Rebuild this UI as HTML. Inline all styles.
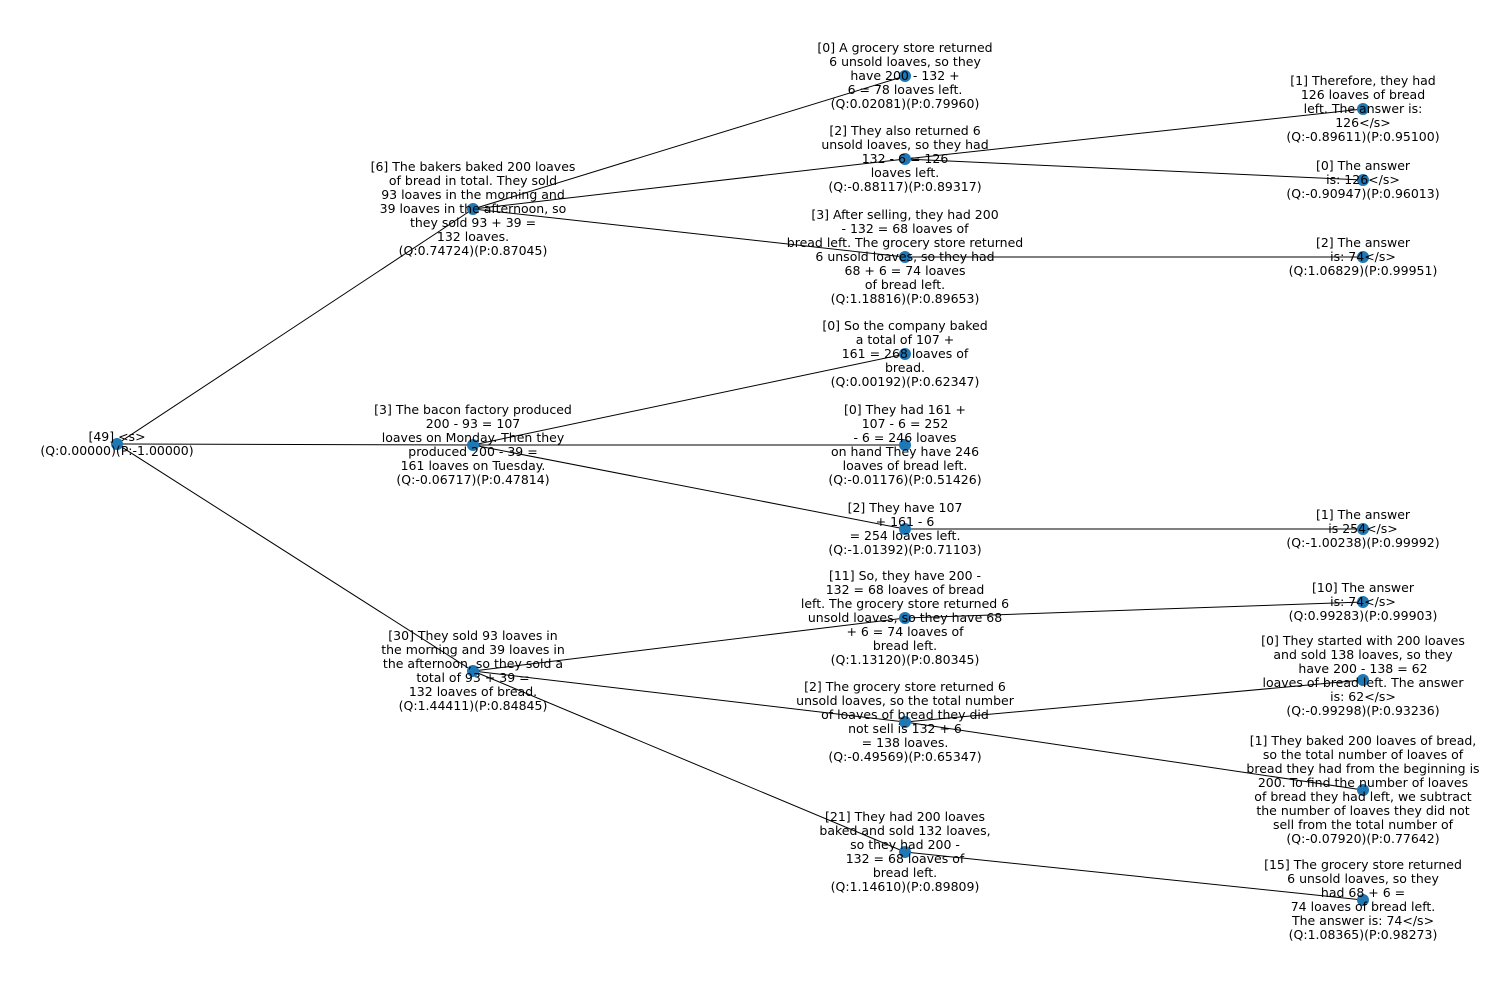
<!DOCTYPE html>
<html><head><meta charset="utf-8"><style>
body{margin:0;background:#fff}
svg text{font-family:"DejaVu Sans","Liberation Sans",sans-serif;font-size:12.5px;fill:#000;text-anchor:middle}
</style></head><body>
<svg width="1495" height="997" viewBox="0 0 1495 997" xmlns="http://www.w3.org/2000/svg">
<g stroke="#000" stroke-width="1">
<line x1="117" y1="444" x2="473" y2="209"/>
<line x1="117" y1="444" x2="473" y2="445"/>
<line x1="117" y1="444" x2="473" y2="671"/>
<line x1="473" y1="209" x2="905" y2="76"/>
<line x1="473" y1="209" x2="905" y2="159"/>
<line x1="473" y1="209" x2="905" y2="257"/>
<line x1="905" y1="159" x2="1363" y2="109"/>
<line x1="905" y1="159" x2="1363" y2="180"/>
<line x1="905" y1="257" x2="1363" y2="257"/>
<line x1="473" y1="445" x2="905" y2="354"/>
<line x1="473" y1="445" x2="905" y2="445"/>
<line x1="473" y1="445" x2="905" y2="529"/>
<line x1="905" y1="529" x2="1363" y2="529"/>
<line x1="473" y1="671" x2="905" y2="618"/>
<line x1="473" y1="671" x2="905" y2="722"/>
<line x1="473" y1="671" x2="905" y2="852"/>
<line x1="905" y1="618" x2="1363" y2="602"/>
<line x1="905" y1="722" x2="1363" y2="680"/>
<line x1="905" y1="722" x2="1363" y2="790"/>
<line x1="905" y1="852" x2="1363" y2="900"/>
</g>
<g fill="#1f77b4">
<circle cx="117" cy="444" r="6"/><circle cx="473" cy="209" r="6"/><circle cx="473" cy="445" r="6"/><circle cx="473" cy="671" r="6"/>
<circle cx="905" cy="76" r="6"/><circle cx="905" cy="159" r="6"/><circle cx="905" cy="257" r="6"/><circle cx="905" cy="354" r="6"/>
<circle cx="905" cy="445" r="6"/><circle cx="905" cy="529" r="6"/><circle cx="905" cy="618" r="6"/><circle cx="905" cy="722" r="6"/>
<circle cx="905" cy="852" r="6"/><circle cx="1363" cy="109" r="6"/><circle cx="1363" cy="180" r="6"/><circle cx="1363" cy="257" r="6"/>
<circle cx="1363" cy="529" r="6"/><circle cx="1363" cy="602" r="6"/><circle cx="1363" cy="680" r="6"/><circle cx="1363" cy="790" r="6"/>
<circle cx="1363" cy="900" r="6"/>
</g>
<text x="117" y="441"><tspan x="117">[49] &lt;s&gt;</tspan><tspan x="117" dy="14">(Q:0.00000)(P:-1.00000)</tspan></text>
<text x="473" y="171"><tspan x="473">[6] The bakers baked 200 loaves</tspan><tspan x="473" dy="14">of bread in total. They sold</tspan><tspan x="473" dy="14">93 loaves in the morning and</tspan><tspan x="473" dy="14">39 loaves in the afternoon, so</tspan><tspan x="473" dy="14">they sold 93 + 39 =</tspan><tspan x="473" dy="14">132 loaves.</tspan><tspan x="473" dy="14">(Q:0.74724)(P:0.87045)</tspan></text>
<text x="473" y="414"><tspan x="473">[3] The bacon factory produced</tspan><tspan x="473" dy="14">200 - 93 = 107</tspan><tspan x="473" dy="14">loaves on Monday. Then they</tspan><tspan x="473" dy="14">produced 200 - 39 =</tspan><tspan x="473" dy="14">161 loaves on Tuesday.</tspan><tspan x="473" dy="14">(Q:-0.06717)(P:0.47814)</tspan></text>
<text x="473" y="640"><tspan x="473">[30] They sold 93 loaves in</tspan><tspan x="473" dy="14">the morning and 39 loaves in</tspan><tspan x="473" dy="14">the afternoon, so they sold a</tspan><tspan x="473" dy="14">total of 93 + 39 =</tspan><tspan x="473" dy="14">132 loaves of bread.</tspan><tspan x="473" dy="14">(Q:1.44411)(P:0.84845)</tspan></text>
<text x="905" y="52"><tspan x="905">[0] A grocery store returned</tspan><tspan x="905" dy="14">6 unsold loaves, so they</tspan><tspan x="905" dy="14">have 200 - 132 +</tspan><tspan x="905" dy="14">6 = 78 loaves left.</tspan><tspan x="905" dy="14">(Q:0.02081)(P:0.79960)</tspan></text>
<text x="905" y="135"><tspan x="905">[2] They also returned 6</tspan><tspan x="905" dy="14">unsold loaves, so they had</tspan><tspan x="905" dy="14">132 - 6 = 126</tspan><tspan x="905" dy="14">loaves left.</tspan><tspan x="905" dy="14">(Q:-0.88117)(P:0.89317)</tspan></text>
<text x="905" y="219"><tspan x="905">[3] After selling, they had 200</tspan><tspan x="905" dy="14">- 132 = 68 loaves of</tspan><tspan x="905" dy="14">bread left. The grocery store returned</tspan><tspan x="905" dy="14">6 unsold loaves, so they had</tspan><tspan x="905" dy="14">68 + 6 = 74 loaves</tspan><tspan x="905" dy="14">of bread left.</tspan><tspan x="905" dy="14">(Q:1.18816)(P:0.89653)</tspan></text>
<text x="905" y="330"><tspan x="905">[0] So the company baked</tspan><tspan x="905" dy="14">a total of 107 +</tspan><tspan x="905" dy="14">161 = 268 loaves of</tspan><tspan x="905" dy="14">bread.</tspan><tspan x="905" dy="14">(Q:0.00192)(P:0.62347)</tspan></text>
<text x="905" y="414"><tspan x="905">[0] They had 161 +</tspan><tspan x="905" dy="14">107 - 6 = 252</tspan><tspan x="905" dy="14">- 6 = 246 loaves</tspan><tspan x="905" dy="14">on hand They have 246</tspan><tspan x="905" dy="14">loaves of bread left.</tspan><tspan x="905" dy="14">(Q:-0.01176)(P:0.51426)</tspan></text>
<text x="905" y="512"><tspan x="905">[2] They have 107</tspan><tspan x="905" dy="14">+ 161 - 6</tspan><tspan x="905" dy="14">= 254 loaves left.</tspan><tspan x="905" dy="14">(Q:-1.01392)(P:0.71103)</tspan></text>
<text x="905" y="580"><tspan x="905">[11] So, they have 200 -</tspan><tspan x="905" dy="14">132 = 68 loaves of bread</tspan><tspan x="905" dy="14">left. The grocery store returned 6</tspan><tspan x="905" dy="14">unsold loaves, so they have 68</tspan><tspan x="905" dy="14">+ 6 = 74 loaves of</tspan><tspan x="905" dy="14">bread left.</tspan><tspan x="905" dy="14">(Q:1.13120)(P:0.80345)</tspan></text>
<text x="905" y="691"><tspan x="905">[2] The grocery store returned 6</tspan><tspan x="905" dy="14">unsold loaves, so the total number</tspan><tspan x="905" dy="14">of loaves of bread they did</tspan><tspan x="905" dy="14">not sell is 132 + 6</tspan><tspan x="905" dy="14">= 138 loaves.</tspan><tspan x="905" dy="14">(Q:-0.49569)(P:0.65347)</tspan></text>
<text x="905" y="821"><tspan x="905">[21] They had 200 loaves</tspan><tspan x="905" dy="14">baked and sold 132 loaves,</tspan><tspan x="905" dy="14">so they had 200 -</tspan><tspan x="905" dy="14">132 = 68 loaves of</tspan><tspan x="905" dy="14">bread left.</tspan><tspan x="905" dy="14">(Q:1.14610)(P:0.89809)</tspan></text>
<text x="1363" y="85"><tspan x="1363">[1] Therefore, they had</tspan><tspan x="1363" dy="14">126 loaves of bread</tspan><tspan x="1363" dy="14">left. The answer is:</tspan><tspan x="1363" dy="14">126&lt;/s&gt;</tspan><tspan x="1363" dy="14">(Q:-0.89611)(P:0.95100)</tspan></text>
<text x="1363" y="170"><tspan x="1363">[0] The answer</tspan><tspan x="1363" dy="14">is: 126&lt;/s&gt;</tspan><tspan x="1363" dy="14">(Q:-0.90947)(P:0.96013)</tspan></text>
<text x="1363" y="247"><tspan x="1363">[2] The answer</tspan><tspan x="1363" dy="14">is: 74&lt;/s&gt;</tspan><tspan x="1363" dy="14">(Q:1.06829)(P:0.99951)</tspan></text>
<text x="1363" y="519"><tspan x="1363">[1] The answer</tspan><tspan x="1363" dy="14">is 254&lt;/s&gt;</tspan><tspan x="1363" dy="14">(Q:-1.00238)(P:0.99992)</tspan></text>
<text x="1363" y="592"><tspan x="1363">[10] The answer</tspan><tspan x="1363" dy="14">is: 74&lt;/s&gt;</tspan><tspan x="1363" dy="14">(Q:0.99283)(P:0.99903)</tspan></text>
<text x="1363" y="645"><tspan x="1363">[0] They started with 200 loaves</tspan><tspan x="1363" dy="14">and sold 138 loaves, so they</tspan><tspan x="1363" dy="14">have 200 - 138 = 62</tspan><tspan x="1363" dy="14">loaves of bread left. The answer</tspan><tspan x="1363" dy="14">is: 62&lt;/s&gt;</tspan><tspan x="1363" dy="14">(Q:-0.99298)(P:0.93236)</tspan></text>
<text x="1363" y="745"><tspan x="1363">[1] They baked 200 loaves of bread,</tspan><tspan x="1363" dy="14">so the total number of loaves of</tspan><tspan x="1363" dy="14">bread they had from the beginning is</tspan><tspan x="1363" dy="14">200. To find the number of loaves</tspan><tspan x="1363" dy="14">of bread they had left, we subtract</tspan><tspan x="1363" dy="14">the number of loaves they did not</tspan><tspan x="1363" dy="14">sell from the total number of</tspan><tspan x="1363" dy="14">(Q:-0.07920)(P:0.77642)</tspan></text>
<text x="1363" y="869"><tspan x="1363">[15] The grocery store returned</tspan><tspan x="1363" dy="14">6 unsold loaves, so they</tspan><tspan x="1363" dy="14">had 68 + 6 =</tspan><tspan x="1363" dy="14">74 loaves of bread left.</tspan><tspan x="1363" dy="14">The answer is: 74&lt;/s&gt;</tspan><tspan x="1363" dy="14">(Q:1.08365)(P:0.98273)</tspan></text>
</svg>
</body></html>
